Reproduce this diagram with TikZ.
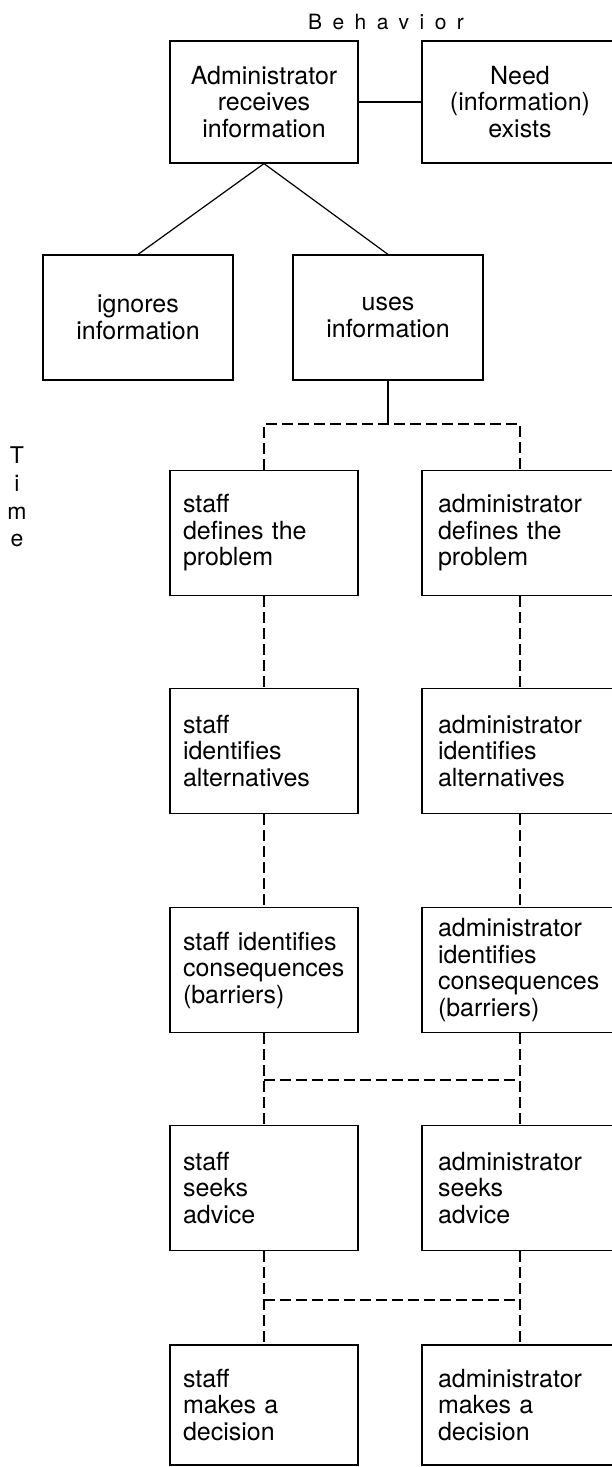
\documentclass[tikz,border=0pt]{standalone}
\usepackage{fontspec}
\setmainfont{TeX Gyre Heros}
\usepackage{tikz}

\newcommand{\boxfont}{\fontsize{25}{26.5}\selectfont}
\newcommand{\labelfont}{\fontsize{21}{27.7}\selectfont}
\newcommand{\timefont}{\fontsize{23}{27.7}\selectfont}

\tikzset{
	infobox/.style={shape=rectangle,draw=black,line width=1.2pt,minimum height=125pt,font=\boxfont},
	topbox/.style={infobox,align=center,inner sep=0pt},
	staffbox/.style={infobox,align=left,inner xsep=13pt,inner ysep=0pt,text width=162pt},
	adminbox/.style={infobox,align=left,inner xsep=16pt,inner ysep=0pt,text width=164pt},
	link/.style={line width=1.2pt},
	dashlink/.style={line width=1.2pt,dash pattern=on 11pt off 5pt},
}

\begin{document}
\begin{tikzpicture}[x=1pt,y=-1pt]
	\useasboundingbox (0,0) rectangle (612,1467);

	\node[font=\labelfont] (behavior) at (386, 22) {\addfontfeature{LetterSpace=50}Behavior};
	\node[font=\timefont,align=center] (time) at (17, 497) {T\\i\\m\\e};

	\node[topbox,minimum width=188pt,minimum height=122pt] (receives) at (264, 102) {Administrator\\receives\\information};
	\node[topbox,minimum width=196pt,minimum height=122pt] (need)     at (520, 102) {Need\\(information)\\exists};
	\node[topbox,minimum width=190pt] (ignores) at (138, 317.5) {ignores\\information};
	\node[topbox,minimum width=190pt] (uses)    at (388, 317.5) {uses\\information};

	\node[staffbox] (sdefine)   at (264, 533)  {staff\\defines the\\problem};
	\node[staffbox] (salter)    at (264, 751)  {staff\\identifies\\alternatives};
	\node[staffbox] (sconseq)   at (264, 970)  {staff identifies\\consequences\\(barriers)};
	\node[staffbox] (sadvice)   at (264, 1188) {staff\\seeks\\advice};
	\node[staffbox,minimum height=120pt] (sdecide) at (264, 1405) {staff\\makes a\\decision};

	\node[adminbox] (adefine)   at (520, 533)  {administrator\\defines the\\problem};
	\node[adminbox] (aalter)    at (520, 751)  {administrator\\identifies\\alternatives};
	\node[adminbox] (aconseq)   at (520, 970)  {administrator\\identifies\\consequences\\(barriers)};
	\node[adminbox] (aadvice)   at (520, 1188) {administrator\\seeks\\advice};
	\node[adminbox,minimum height=120pt] (adecide) at (520, 1405) {administrator\\makes a\\decision};

	\coordinate (split) at (388, 424);
	\coordinate (cl) at (264, 1080);
	\coordinate (cr) at (520, 1080);
	\coordinate (dl) at (264, 1300);
	\coordinate (dr) at (520, 1300);

	\draw[link] (receives) -- (need);
	\draw[link] (receives.south) -- (ignores.north);
	\draw[link] (receives.south) -- (uses.north);
	\draw[link] (uses.south) -- (split);
	\draw[dashlink] (sdefine.north) |- (split) -| (adefine.north);

	\draw[dashlink] (sdefine) -- (salter);
	\draw[dashlink] (adefine) -- (aalter);
	\draw[dashlink] (salter) -- (sconseq);
	\draw[dashlink] (aalter) -- (aconseq);
	\draw[dashlink] (sconseq) -- (sadvice);
	\draw[dashlink] (aconseq) -- (aadvice);
	\draw[dashlink] (cl) -- (cr);
	\draw[dashlink] (sadvice) -- (sdecide);
	\draw[dashlink] (aadvice) -- (adecide);
	\draw[dashlink] (dl) -- (dr);
\end{tikzpicture}
\end{document}
